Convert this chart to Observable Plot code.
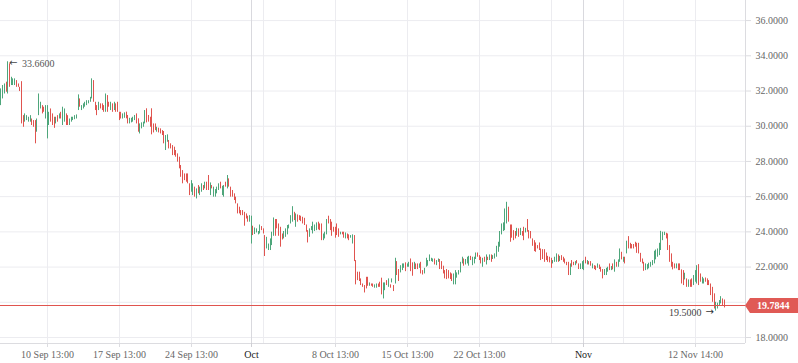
<!DOCTYPE html>
<html>
<head>
<meta charset="utf-8">
<script src="https://cdn.jsdelivr.net/npm/d3@7"></script>
<script src="https://cdn.jsdelivr.net/npm/@observablehq/plot@0.6"></script>
<style>
  html, body { margin: 0; padding: 0; background: #ffffff; }
  #chart svg { display: block; }
</style>
</head>
<body>
<div id="chart"></div>
<script>
// ---------- DATA ----------
const firstBar = "2018-09-06T01:00Z";   // 4-hour bars
const barHours = 4;

const highs = `
32.12 32.31 32.40 32.50 33.66 33.54 32.78 32.69 32.69 32.59
32.40 32.21 32.53 30.60 30.70 30.60 30.51 30.60 30.41 30.32
30.32 30.41 31.83 31.36 31.17 31.08 31.17 31.17 30.79 30.98
30.70 30.51 30.51 30.60 30.70 30.79 31.08 30.98 30.70 30.60
30.41 30.51 30.51 30.60 30.64 31.78 31.55 31.17 31.27 31.36
31.45 31.45 31.64 32.69 32.59 31.36 31.17 31.36 31.27 31.27
31.17 31.83 31.74 31.36 31.36 31.27 31.36 31.27 31.36 30.79
30.79 30.70 30.76
30.80 30.61 30.45 30.45 30.51 30.61 30.70
30.42 30.13 30.19 30.23 30.89 30.99 30.61 30.51 30.99 30.13
30.13 29.94 29.89 29.85 29.75 29.70 29.47 29.51 29.19 29.00
28.90 28.81 28.62 28.43 28.24 27.77 27.48 27.29 27.29 27.29
26.73 26.91 26.73 26.54 26.44 26.63 26.54 26.73 26.63 26.82
26.82 27.20 26.78 26.63 26.54 26.40 26.54 26.73 26.82 26.59
26.63 26.82 27.20 27.01 26.54 26.35 26.16 25.97 25.59 25.40
25.21 25.21 25.11 25.02 24.89 24.92 24.89 24.32 24.22 24.17
24.02 24.39 24.30 24.17 23.79 23.69 23.31 23.60 23.98 24.79
24.70 24.70 24.45 24.26 23.88 24.02 24.17 24.36 24.39 24.92
25.43 25.11 25.02 24.96 24.92 24.89 24.83 24.77 24.39 24.07
24.17 24.30 24.55 24.39 24.51 24.55 24.45 24.45 23.88 23.98
24.70 24.89 24.70 24.55 24.26 24.26 24.45 24.17 23.98 23.98
23.98 23.94 23.88 23.83 23.79 23.83 23.79 22.37 21.71 21.71
21.33 21.04 20.95
21.42 21.42 21.10 21.04 21.04 20.99 21.04
21.04 21.14 21.37 21.10 21.10 21.23 21.33 20.99 21.33 20.95
22.50 22.31 21.86 22.08 22.18 22.18 22.24 22.18 22.27 22.46
22.24 22.27 22.18 22.18 22.18 22.27 21.80 21.93 22.50 22.37
22.69 22.50 22.46 22.46 22.37 22.46 22.43 22.31 22.05 21.80
21.86 21.80 21.67 21.61 21.61 21.80 21.67 21.80 22.27 22.56
22.46 22.43 22.56 22.61 22.61 22.56 22.56 22.80 22.80 22.65
22.56 22.50 22.56 22.69
22.56 22.69 22.69 22.65 22.75 23.18 23.41 24.02 24.45 24.51
25.30 25.68 25.40 24.39 24.39 24.07 24.02 24.20 24.17 24.20
24.02 24.26 24.20 24.70 24.07 24.02 23.60 23.50 23.37 23.22
23.37 23.03 22.99 22.99 22.80 22.61 22.56 22.50 22.37 22.56
22.75 22.69 22.61 22.65 22.56 22.46 22.27 22.27 22.18 22.37
22.27 22.31 22.37 22.18 22.18 22.31 22.37 22.56 22.37 22.31
22.31 22.18 22.08 22.05 22.18 22.12 21.99 21.86 21.86 21.93
21.99 22.18 22.03 22.18 22.41 22.27 22.41 23.03 22.84 22.56
22.56 23.47 23.73 23.35 23.28 23.28 23.41 23.35 23.35 22.78
22.46 22.27 22.18 22.14 22.22 22.27 22.37 22.90 22.97 23.03
23.35 24.03 23.98 23.98 23.92 23.88 23.22 22.75 22.27 22.18
22.18 22.18 22.18 21.84 21.80 21.65 21.33 21.27 21.27 21.33
21.52 21.80 22.08 22.14 21.61 21.42 21.33 21.38 21.33 21.23
21.04 20.85 20.48 20.00 19.95 20.10 20.32 20.19 20.13
`.trim().split(/\s+/).map(Number);

const lows = `
31.17 31.55 31.83 31.93 31.83 32.21 32.31 32.31 32.31 32.21
32.21 31.97 30.13 29.94 30.23 30.32 30.23 30.23 30.04 29.94
29.00 29.66 30.60 30.98 30.70 30.79 30.41 29.28 30.04 30.23
30.04 29.88 30.13 30.23 30.41 30.41 30.04 30.23 30.04 30.04
30.04 30.23 30.32 30.37 30.41 30.89 31.08 30.89 30.98 31.08
31.17 31.27 31.36 31.55 31.36 30.89 30.60 30.89 30.98 30.89
30.79 30.79 30.79 31.08 30.89 30.79 30.89 30.79 30.79 30.32
30.41 30.41 30.45
30.42 30.13 30.13 30.19 30.23 30.32 30.13
29.66 29.56 29.85 29.94 30.13 30.19 30.23 29.94 29.51 29.62
29.75 29.66 29.62 29.56 29.47 29.00 28.62 29.09 28.71 28.71
28.33 28.33 28.24 27.96 27.58 27.10 26.73 26.91 26.82 26.73
26.06 26.25 26.06 25.97 25.87 26.16 26.06 26.25 26.35 26.44
26.35 26.35 26.06 26.44 25.97 25.97 26.16 26.35 26.44 26.06
25.97 26.54 26.44 26.54 25.97 25.97 25.78 25.59 25.02 25.02
24.92 24.92 24.32 24.73 24.55 24.55 23.31 23.79 23.85 23.94
23.83 23.88 24.07 23.88 22.60 23.03 22.94 22.94 23.22 23.75
23.75 24.17 23.75 23.13 23.54 23.60 23.69 23.83 24.17 24.45
24.55 24.64 24.26 24.55 24.64 24.58 24.45 24.36 23.98 23.37
23.69 24.07 23.88 24.02 24.07 24.11 24.07 23.50 23.50 23.60
23.83 24.45 24.07 23.75 23.98 23.64 23.79 23.69 23.83 23.83
23.64 23.60 23.60 23.50 23.64 23.31 22.31 20.99 21.23 21.18
20.95 20.85 20.53
20.76 20.91 20.91 20.91 20.85 20.80 20.80
20.85 20.85 20.42 20.19 20.66 20.95 20.85 20.80 21.10 20.61
21.04 21.52 21.18 21.67 21.80 21.93 21.74 21.99 21.99 21.74
21.48 21.86 21.86 21.86 21.93 21.61 21.55 21.61 21.99 22.05
22.31 22.31 22.27 22.12 22.08 22.27 21.86 21.86 21.61 21.33
21.29 21.33 21.29 21.18 20.99 20.99 21.37 21.55 21.67 22.18
22.05 22.12 22.18 22.05 22.37 22.08 22.18 22.43 22.56 22.37
22.18 21.99 22.27 22.12
22.37 22.37 22.27 22.43 22.46 22.56 22.84 23.13 23.83 24.02
24.07 24.45 24.55 23.41 23.64 23.50 23.60 23.75 23.69 23.79
23.75 23.50 23.94 23.98 23.60 23.60 23.18 22.88 22.84 23.03
22.94 22.37 22.43 22.27 22.37 22.27 22.24 21.93 22.18 22.27
22.27 22.27 22.31 22.37 22.27 22.18 22.08 21.52 21.52 21.99
22.08 22.08 22.18 21.86 21.86 21.86 21.80 22.18 22.12 22.12
22.05 21.90 21.86 21.80 21.93 21.86 21.71 21.33 21.52 21.52
21.71 21.80 21.80 21.84 21.71 21.99 21.99 22.27 22.41 22.27
22.18 22.75 23.03 23.03 23.03 23.03 23.13 22.78 22.75 22.27
22.18 21.76 21.80 21.84 21.90 21.99 22.08 22.18 22.41 22.56
22.65 22.94 23.50 23.79 23.60 22.94 22.27 21.99 21.84 21.90
21.90 21.80 21.80 21.04 20.95 21.27 20.85 20.85 20.85 20.85
20.95 21.14 21.04 20.95 21.14 21.04 21.04 21.14 20.95 20.95
20.38 20.00 19.62 19.50 19.62 19.76 19.91 19.81 19.68
`.trim().split(/\s+/).map(Number);

// u = close above open (green), d = close below open (red)
const directions = [
  "uuududuuud","dddduuuudd","duuudduuud","ddududuudd","uuuuuuduuu",
  "uuuudddudd","duddududdd","duu",
  "dduuuud","duuuuddddd","dudddduudd","dddddddddd","duududuudu",
  "dduduuuudu","ududdddddd",
  "ddddduuduu","uuddduuuuu","ddddduuuuu","ududdddddd","uuuuuddduu",
  "udddddddud","dudduudddd","ddd",
  "ddudduu","ddduududud","udduuuduud","duddudduuu","uuuduudddd",
  "dddduuuuuu","duuuduuudd","dudu",
  "duduuuuuuu","uudddddudu","dduddddddd","dddddddduu","ududddddud",
  "dudduuudud","dudduddduu",
  "udududuudu","dudddddddd","dduuuuuuuu","uuuudddddd","uddddududd",
  "uuudduuddd","ddduuuudd"
].join("");

const lastClose = 19.7844;

const gridValues = [18, 20, 22, 24, 26, 28, 30, 32, 34, 36];
const yLabelValues = [18, 22, 24, 26, 28, 30, 32, 34, 36]; // 20 sits under the price tag
const yDomain = [17.66, 37.14];
const xDomain = ["2018-09-05T23:50Z", "2018-11-17T10:30Z"];

const gridDates = ["2018-09-10T13:00Z","2018-09-17T13:00Z","2018-09-24T13:00Z",
  "2018-10-01T13:00Z","2018-10-08T13:00Z","2018-10-15T13:00Z","2018-10-22T13:00Z",
  "2018-10-29T13:00Z","2018-11-05T13:00Z","2018-11-12T13:00Z"];
const tickDates = ["2018-09-10T13:00Z","2018-09-17T13:00Z","2018-09-24T13:00Z",
  "2018-10-08T13:00Z","2018-10-15T13:00Z","2018-10-22T13:00Z","2018-11-12T13:00Z"];
const tickLabels = ["10 Sep 13:00","17 Sep 13:00","24 Sep 13:00",
  "8 Oct 13:00","15 Oct 13:00","22 Oct 13:00","12 Nov 14:00"];
const monthDates = ["2018-09-30T10:00Z","2018-11-01T16:00Z"];
const monthLabels = ["Oct","Nov"];

// ---------- BUILD ----------
const n = Math.min(highs.length, lows.length, directions.length);
const t0 = new Date(firstBar).getTime();
const bars = d3.range(n).map(i => ({
  date: new Date(t0 + i * barHours * 3600e3),
  high: highs[i],
  low: lows[i],
  up: directions[i] === "u"
}));
const maxBar = bars.reduce((a, b) => (b.high > a.high ? b : a));
const minBar = bars.reduce((a, b) => (b.low < a.low ? b : a));

const toDate = s => new Date(s);
const labelOf = new Map(tickDates.map((d, i) => [toDate(d).getTime(), tickLabels[i]]));
const monthOf = new Map(monthDates.map((d, i) => [toDate(d).getTime(), monthLabels[i]]));

const W = 798, H = 363, MR = 53, MB = 20;
const RED = "#e0544f", GREEN = "#4ea67b";
const GRID = "#ececf0", BORDER = "#dcdce0";
const FONT = '"Liberation Serif", "DejaVu Serif", serif';
const ARROWFONT = '"DejaVu Sans", sans-serif';

// snap the price line onto a whole pixel row
const pyRaw = d3.scaleLinear(yDomain, [H - MB, 0])(lastClose);
const lineDy = Math.floor(pyRaw) - pyRaw;

const chart = Plot.plot({
  width: W,
  height: H,
  marginLeft: 0,
  marginRight: MR,
  marginTop: 0,
  marginBottom: MB,
  style: { fontFamily: FONT, fontSize: "10px", background: "#ffffff", overflow: "visible" },
  x: { type: "utc", domain: xDomain.map(toDate), axis: null, round: true },
  y: { domain: yDomain, axis: null },
  marks: [
    Plot.ruleY(gridValues, { stroke: GRID }),
    Plot.ruleX(gridDates.map(toDate), { stroke: GRID }),
    Plot.ruleX(monthDates.map(toDate), { stroke: "#d9d9de" }),
    Plot.ruleX([toDate(xDomain[1])], { stroke: BORDER }),
    Plot.ruleY([yDomain[0]], { stroke: BORDER }),
    Plot.axisY(yLabelValues, {
      anchor: "right", tickSize: 5, tickPadding: 5,
      tickFormat: d => d.toFixed(4),
      stroke: BORDER, fill: "#666", fontSize: 10, fontFamily: FONT
    }),
    Plot.axisX(tickDates.map(toDate), {
      anchor: "bottom", tickSize: 4, tickPadding: 3,
      tickFormat: d => labelOf.get(d.getTime()),
      stroke: BORDER, fill: "#666", fontSize: 10, fontFamily: FONT
    }),
    Plot.axisX(monthDates.map(toDate), {
      anchor: "bottom", tickSize: 4, tickPadding: 3,
      tickFormat: d => monthOf.get(d.getTime()),
      stroke: "#cfcfd4", fill: "#1a1a1a", fontSize: 10, fontFamily: FONT
    }),
    Plot.ruleX(bars, {
      x: "date", y1: "low", y2: "high",
      stroke: d => (d.up ? GREEN : RED), strokeWidth: 1
    }),
    Plot.ruleY([lastClose], { stroke: RED, strokeWidth: 1, dy: lineDy }),
    // high annotation
    Plot.text([maxBar], {
      x: "date", y: "high", text: () => "\u2190",
      textAnchor: "start", dx: 1.5, dy: 1, fill: "#444", fontSize: 10, fontFamily: ARROWFONT
    }),
    Plot.text([maxBar], {
      x: "date", y: "high", text: d => d.high.toFixed(4),
      textAnchor: "start", dx: 14.5, dy: 2.5, fill: "#555", fontSize: 10, fontFamily: FONT
    }),
    // low annotation
    Plot.text([minBar], {
      x: "date", y: "low", text: () => "\u2192",
      textAnchor: "end", dx: -1.5, dy: 0.5, fill: "#333", fontSize: 10, fontFamily: ARROWFONT
    }),
    Plot.text([minBar], {
      x: "date", y: "low", text: d => d.low.toFixed(4),
      textAnchor: "end", dx: -14, dy: 2, fill: "#444", fontSize: 10, fontFamily: FONT
    })
  ]
});

document.getElementById("chart").appendChild(chart);

// price tag on the right axis
const svg = d3.select(chart);
const py = chart.scale("y").apply(lastClose);
const left = W - MR;
svg.append("path")
  .attr("d", `M${left},${py} L${left + 5},${py - 7.5} L${W},${py - 7.5} L${W},${py + 7.5} L${left + 5},${py + 7.5} Z`)
  .attr("fill", "#e05a55");
svg.append("text")
  .attr("x", left + 12)
  .attr("y", py)
  .attr("dy", "0.35em")
  .attr("text-anchor", "start")
  .attr("fill", "#ffffff")
  .attr("font-weight", "bold")
  .attr("font-family", FONT)
  .attr("font-size", 10)
  .text(lastClose.toFixed(4));
</script>
</body>
</html>
